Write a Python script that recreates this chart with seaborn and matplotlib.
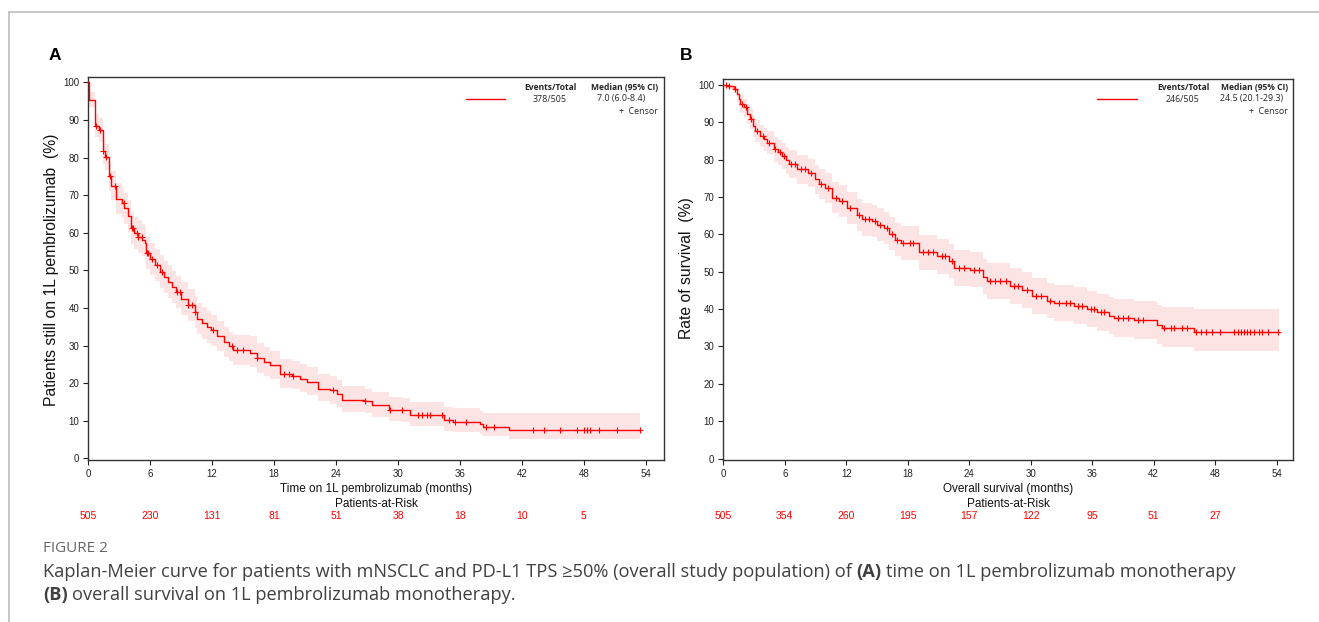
import numpy as np
import pandas as pd
import matplotlib
matplotlib.use("Agg")
import matplotlib.pyplot as plt
import seaborn as sns
from matplotlib.lines import Line2D
from matplotlib.transforms import blended_transform_factory
from matplotlib import font_manager as fm

# ---------------- data ----------------
month_ticks = [0, 6, 12, 18, 24, 30, 36, 42, 48, 54]
pct_ticks = [0, 10, 20, 30, 40, 50, 60, 70, 80, 90, 100]

# Panel A: time on 1L pembrolizumab (KM step curve, % with 95% CI band)
A_time = [0, 0.05, 0.68, 1.07, 1.4, 1.65, 2.04, 2.2, 2.7, 3.27, 3.5, 3.8, 4.15, 4.4, 4.8,
          5.2, 5.45, 5.6, 6.0, 6.5, 6.9, 7.3, 7.7, 8.1, 8.5, 9.0, 9.66, 10.3, 10.5, 11.0,
          11.5, 11.9, 12.5, 13.1, 13.6, 14.0, 15.7, 16.3, 17.0, 17.6, 18.6, 19.7, 20.5,
          21.2, 22.3, 23.4, 24.1, 24.6, 26.8, 27.5, 29.1, 30.4, 31.2, 34.5, 35.3, 37.9,
          38.2, 40.8, 53.4]
A_surv = [100, 95.2, 88.5, 87.3, 81.7, 80.2, 75.0, 72.5, 69.1, 68.0, 66.5, 64.5, 61.3, 60.0,
          59.0, 58.0, 57.2, 54.6, 53.0, 51.5, 49.7, 48.3, 47.0, 45.6, 44.3, 42.5, 40.8, 39.0,
          37.2, 36.0, 35.0, 34.1, 32.5, 31.0, 29.8, 28.8, 28.1, 26.6, 25.7, 24.8, 22.4, 22.0,
          21.2, 20.4, 18.6, 18.1, 17.2, 15.5, 15.2, 14.1, 13.0, 12.8, 11.5, 10.1, 9.7, 9.1,
          8.5, 7.7, 7.7]
A_ci_low = [100, 93.3, 85.5, 84.0, 78.3, 76.7, 71.2, 68.6, 65.0, 63.9, 62.4, 60.3, 57.0,
            55.7, 54.7, 53.7, 52.9, 50.3, 48.7, 47.2, 45.4, 44.0, 42.7, 41.3, 40.0, 38.2,
            36.5, 34.8, 33.0, 31.8, 30.8, 30.0, 28.5, 27.0, 25.9, 24.9, 24.3, 22.8, 21.9,
            21.0, 18.8, 18.4, 17.6, 16.9, 15.2, 14.4, 13.8, 12.3, 12.0, 11.0, 10.0, 9.8,
            8.7, 7.3, 7.0, 6.4, 5.9, 5.2, 5.2]
A_ci_high = [100, 97.3, 91.5, 90.5, 85.2, 83.7, 78.8, 76.4, 73.1, 72.1, 70.6, 68.7, 65.5,
             64.3, 63.3, 62.3, 61.5, 58.9, 57.3, 55.8, 54.0, 52.6, 51.3, 49.9, 48.6, 46.8,
             45.1, 43.2, 41.4, 40.2, 39.2, 38.2, 36.5, 35.0, 33.7, 32.7, 32.5, 30.6, 29.6,
             28.7, 26.5, 26.0, 25.2, 24.3, 22.5, 22.0, 20.8, 19.4, 18.6, 17.6, 16.4, 16.2,
             15.0, 13.8, 13.4, 12.6, 12.0, 12.0, 12.0]
A_censor = [0.75, 1.13, 1.45, 1.71, 2.1, 2.58, 3.45, 4.2, 4.36, 4.68, 4.84, 5.17, 5.65, 5.81,
            6.13, 6.62, 7.1, 8.55, 8.88, 9.68, 10.0, 10.33, 12.1, 13.9, 14.4, 15.0, 16.3,
            19.0, 19.4, 19.8, 23.7, 26.85, 29.2, 30.35, 31.94, 32.36, 32.85, 33.07, 34.24,
            34.96, 35.5, 36.58, 38.5, 39.27, 43.06, 44.13, 45.69, 47.34, 47.99, 48.35,
            48.57, 49.48, 51.26, 53.44]
A_at_risk = [505, 230, 131, 81, 51, 38, 18, 10, 5]

# Panel B: overall survival (KM step curve, % with 95% CI band)
B_time = [0, 0.5, 1.0, 1.3, 1.5, 1.66, 1.98, 2.3, 2.64, 2.9, 3.1, 3.6, 4.0, 4.27, 4.9, 5.3,
          5.7, 6.1, 6.4, 7.2, 8.3, 8.98, 9.3, 9.96, 10.6, 11.3, 12.1, 13.05, 13.5, 14.5,
          15.0, 15.65, 16.2, 16.8, 17.3, 19.1, 20.9, 22.0, 22.5, 24.1, 25.3, 25.75, 28.0,
          29.2, 30.1, 31.6, 32.3, 34.2, 35.5, 36.5, 37.6, 38.1, 40.1, 42.35, 42.8, 45.9,
          54.2]
B_surv = [100, 99.6, 98.9, 97.5, 96.2, 94.9, 94.0, 92.2, 90.9, 89.0, 87.7, 86.4, 85.5, 84.6,
          82.8, 82.0, 81.0, 79.8, 78.8, 77.4, 76.5, 74.7, 73.4, 72.5, 69.8, 68.9, 67.1, 65.3,
          64.0, 63.5, 62.6, 61.7, 60.2, 58.6, 57.7, 55.2, 54.1, 52.8, 51.0, 50.5, 48.7, 47.6,
          46.2, 45.2, 43.4, 42.3, 41.6, 40.9, 40.0, 39.1, 38.2, 37.6, 37.1, 35.8, 34.9, 33.8,
          33.8]
B_ci_low = [100, 99.0, 97.8, 95.5, 94.0, 92.6, 91.5, 89.6, 88.2, 86.2, 84.8, 83.4, 82.4,
            81.4, 79.5, 78.6, 77.5, 76.2, 75.1, 73.6, 72.7, 70.8, 69.4, 68.5, 65.7, 64.7,
            62.9, 61.0, 59.7, 59.2, 58.2, 57.3, 55.7, 54.1, 53.2, 50.6, 49.5, 48.2, 46.3,
            45.8, 44.0, 42.8, 41.4, 40.4, 38.6, 37.5, 36.8, 36.0, 35.1, 34.2, 33.2, 32.6,
            32.0, 30.7, 29.9, 28.7, 28.7]
B_ci_high = [100, 100, 99.8, 99.3, 98.4, 97.2, 96.3, 94.8, 93.6, 91.8, 90.6, 89.4, 88.6,
             87.8, 86.1, 85.4, 84.5, 83.4, 82.5, 81.2, 80.3, 78.6, 77.4, 76.5, 73.9, 73.1,
             71.3, 69.6, 68.3, 67.8, 67.0, 66.1, 64.7, 63.1, 62.2, 59.8, 58.7, 57.4, 55.7,
             55.2, 53.4, 52.4, 51.0, 50.0, 48.2, 47.1, 46.4, 45.8, 44.9, 44.0, 43.2, 42.6,
             42.2, 41.2, 40.5, 40.0, 40.0]
B_censor = [0.3, 0.6, 1.1, 1.8, 2.2, 2.7, 3.3, 3.9, 4.5, 5.0, 5.5, 5.9, 6.6, 7.0, 7.6, 8.0,
            8.6, 9.5, 10.2, 11.0, 11.6, 12.4, 13.2, 13.8, 14.2, 14.8, 15.3, 16.0, 16.5, 17.0,
            17.5, 18.2, 18.5, 19.5, 20.0, 20.5, 21.3, 21.6, 22.3, 23.0, 23.5, 24.5, 25.0,
            26.0, 26.5, 27.0, 27.6, 28.4, 28.8, 29.6, 30.5, 31.0, 31.9, 32.8, 33.4, 33.8,
            34.6, 35.0, 35.9, 36.2, 36.9, 37.2, 38.5, 39.0, 39.5, 40.5, 41.0, 43.0, 43.7,
            44.0, 44.8, 45.3, 46.1, 46.6, 47.1, 47.7, 48.5, 49.8, 50.2, 50.5, 50.8, 51.1,
            51.4, 51.8, 52.3, 52.6, 53.2, 54.1]
B_at_risk = [505, 354, 260, 195, 157, 122, 95, 51, 27]

panels = [
    dict(letter="A", time=A_time, surv=A_surv, lo=A_ci_low, hi=A_ci_high,
         censor=A_censor, risk=A_at_risk,
         xlabel="Time on 1L pembrolizumab (months)",
         ylabel="Patients still on 1L pembrolizumab  (%)",
         events="378/505", median="7.0 (6.0-8.4)"),
    dict(letter="B", time=B_time, surv=B_surv, lo=B_ci_low, hi=B_ci_high,
         censor=B_censor, risk=B_at_risk,
         xlabel="Overall survival (months)",
         ylabel="Rate of survival  (%)",
         events="246/505", median="24.5 (20.1-29.3)"),
]

# ---------------- style ----------------
sns.set_style("ticks")
plt.rcParams['font.family'] = ['Liberation Sans', 'DejaVu Sans']


def wide_font(weight, size):
    """Regular-width Liberation Sans (not the Narrow cut)."""
    for f in fm.fontManager.ttflist:
        if (f.name == "Liberation Sans" and f.style == "normal" and f.weight == weight
                and "narrow" not in f.fname.lower()):
            return fm.FontProperties(fname=f.fname, size=size)
    return fm.FontProperties(family="DejaVu Sans", weight=weight, size=size)


W, H = 1319, 622
fig = plt.figure(figsize=(W / 100, H / 100), dpi=100)
fig.patch.set_facecolor("white")


def fx(x):
    return x / W


def fy(y):
    return 1 - y / H


RED = "#ff0000"
PINK = "#fde4e4"

# axes boxes in pixel coordinates: left, right, top, bottom
boxes = [(88.3, 664.3, 77.0, 460.0), (723.3, 1293.0, 79.0, 460.0)]
xmax = [55.8, 55.6]
ytop = [101.4, 101.6]
legend_px = [dict(line=(466, 505), col1=550, col2=621, right=658),
             dict(line=(1097, 1137), col1=1183, col2=1252, right=1288)]
letter_px = [55, 686]
ylabel_px = [(52, 270), (687, 268)]

for i, p in enumerate(panels):
    l, r, t, b = boxes[i]
    ax = fig.add_axes([fx(l), fy(b), fx(r) - fx(l), fy(t) - fy(b)])

    ax.fill_between(p["time"], p["lo"], p["hi"], step="post", color=PINK, lw=0, zorder=1)
    sns.lineplot(x=p["time"], y=p["surv"], ax=ax, drawstyle="steps-post", color=RED,
                 lw=1.0, estimator=None, sort=False, zorder=3)
    tt = np.asarray(p["time"])
    ss = np.asarray(p["surv"])
    cens_t = np.asarray(p["censor"])
    cens_y = ss[np.clip(np.searchsorted(tt, cens_t, side="right") - 1, 0, len(ss) - 1)]
    sns.scatterplot(x=cens_t, y=cens_y, ax=ax, marker="+", color=RED, s=14,
                    linewidth=0.8, zorder=4)

    ax.set_xlim(0, xmax[i])
    ax.set_ylim(-0.4, ytop[i])
    ax.set_xticks(month_ticks)
    ax.set_yticks(pct_ticks)
    ax.tick_params(axis="both", direction="out", length=3.5, width=0.8, pad=3,
                   labelsize=7, color="#222222", labelcolor="#222222")
    for s in ax.spines.values():
        s.set_visible(True)
        s.set_linewidth(1.0)
        s.set_color("#333333")
    ax.set_xlabel(p["xlabel"], fontsize=8.5, labelpad=3, color="#111111")
    ax.set_ylabel(p["ylabel"], fontproperties=wide_font(400, 11.3), color="#111111")
    ax.yaxis.set_label_coords(fx(ylabel_px[i][0]), fy(ylabel_px[i][1]),
                              transform=fig.transFigure)
    ax.yaxis.label.set_va("center")

    # patients at risk
    trans = blended_transform_factory(ax.transData, fig.transFigure)
    ax.text(np.mean(ax.get_xlim()), fy(504), "Patients-at-Risk", transform=trans,
            ha="center", va="center", fontsize=8.5, color="#111111")
    for tk, n in zip(month_ticks, p["risk"]):
        ax.text(tk, fy(516), str(n), transform=trans, ha="center", va="center",
                fontsize=7.5, color=RED)

    # legend block
    lg = legend_px[i]
    fig.add_artist(Line2D([fx(lg["line"][0]), fx(lg["line"][1])], [fy(98.5), fy(98.5)],
                          color=RED, lw=1.0))
    fam = ["Open Sans", "DejaVu Sans"]
    fig.text(fx(lg["col1"]), fy(87), "Events/Total", ha="center", va="center",
             fontsize=6.1, fontweight="bold", family=fam)
    fig.text(fx(lg["right"]), fy(87), "Median (95% CI)", ha="right", va="center",
             fontsize=6.1, fontweight="bold", family=fam)
    fig.text(fx(lg["col1"]), fy(99), p["events"], ha="center", va="center",
             fontsize=6.4, family=fam)
    fig.text(fx(lg["col2"]), fy(99), p["median"], ha="center", va="center",
             fontsize=6.4, family=fam)
    fig.text(fx(lg["right"]), fy(111), "+  Censor", ha="right", va="center",
             fontsize=6.4, family=fam)

    fig.text(fx(letter_px[i]), fy(55), p["letter"], ha="center", va="center",
             fontproperties=wide_font(700, 12.5), color="black")

# frame lines of the figure panel
fig.add_artist(Line2D([fx(9), 1], [fy(12), fy(12)], color="#bdbdbd", lw=1.2))
fig.add_artist(Line2D([fx(9), fx(9)], [fy(12), 0], color="#bdbdbd", lw=1.2))

# caption
cap_fam = ["Open Sans", "DejaVu Sans"]
cap_x = 43
fig.text(fx(cap_x), fy(548), "FIGURE 2", ha="left", va="center", fontsize=11,
         color="#666666", family=cap_fam)

renderer = fig.canvas.get_renderer()


def text_width(s, weight, size):
    t = fig.text(0, 0, s, fontsize=size, fontweight=weight, family=cap_fam)
    w = t.get_window_extent(renderer).width
    t.remove()
    return w


def draw_runs(x0, y, runs, size, color):
    sp = text_width("a a", "normal", size) - text_width("aa", "normal", size)
    x = x0
    for txt, weight in runs:
        lead = len(txt) - len(txt.lstrip(" "))
        trail = len(txt) - len(txt.rstrip(" "))
        x += lead * sp
        t = fig.text(x / W, fy(y), txt.strip(" "), ha="left", va="center", fontsize=size,
                     fontweight=weight, color=color, family=cap_fam)
        x = t.get_window_extent(renderer).x1 + trail * sp


cap_size = 13.15
cap_col = "#404040"
draw_runs(cap_x, 572, [("Kaplan-Meier curve for patients with mNSCLC and PD-L1 TPS \u226550% "
                        "(overall study population) of ", "normal"), ("(A)", "bold"),
                       (" time on 1L pembrolizumab monotherapy", "normal")], cap_size, cap_col)
draw_runs(cap_x, 595, [("(B)", "bold"), (" overall survival on 1L pembrolizumab monotherapy.",
                                         "normal")], cap_size, cap_col)

fig.savefig("out.png", dpi=100, facecolor="white")
